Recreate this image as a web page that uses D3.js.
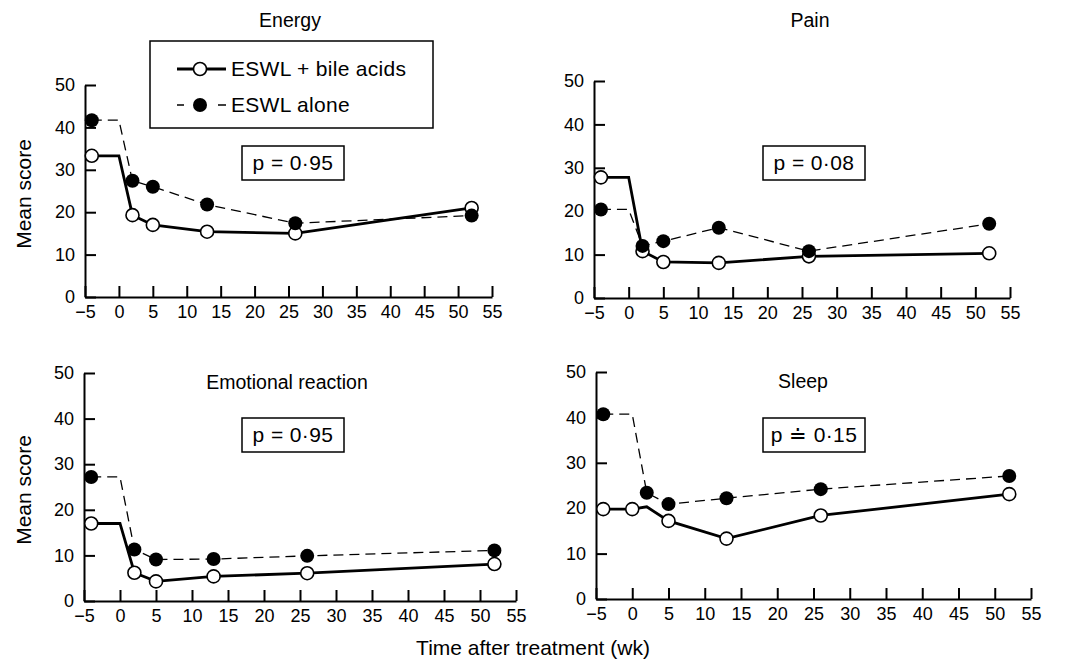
<!DOCTYPE html>
<html>
<head>
<meta charset="utf-8">
<script src="https://cdn.jsdelivr.net/npm/d3@7"></script>
<style>
  body { margin: 0; background: #fff; }
  svg { display: block; font-family: "Liberation Sans", Arial, sans-serif; }
  .axis path, .axis line { stroke: #000; stroke-width: 2; }
  .axis text { font-size: 18px; fill: #000; }
</style>
</head>
<body>
<script>
// weeks of each measurement (week 0 is the treatment)
var weeks = [-4, 0, 2, 5, 13, 26, 52];

var energyBile = [33.3, 33.3, 19.3, 17.0, 15.4, 15.0, 21.0];
var energyAlone = [41.7, 41.7, 27.4, 26.0, 21.8, 17.4, 19.2];
var painBile = [27.8, 27.8, 10.8, 8.3, 8.1, 9.6, 10.3];
var painAlone = [20.4, 20.4, 12.0, 13.1, 16.2, 10.8, 17.1];
var emotionBile = [17.0, 17.0, 6.2, 4.3, 5.4, 6.1, 8.1];
var emotionAlone = [27.2, 27.2, 11.3, 9.1, 9.2, 9.9, 11.1];
var sleepBile = [19.8, 19.8, 20.3, 17.2, 13.3, 18.4, 23.1];
var sleepAlone = [40.7, 40.7, 23.4, 20.9, 22.2, 24.2, 27.1];

// which weeks carry a marker
var markedWeeks = [-4, 2, 5, 13, 26, 52];
var markedWeeksSleepBile = [-4, 0, 5, 13, 26, 52];

var titles = ['Energy', 'Pain', 'Emotional reaction', 'Sleep'];
var pLabels = ['p = 0\u00b795', 'p = 0\u00b708', 'p = 0\u00b795', 'p \u2250 0\u00b715'];
var xTicks = [-5, 0, 5, 10, 15, 20, 25, 30, 35, 40, 45, 50, 55];
var yTicks = [0, 10, 20, 30, 40, 50];
var seriesNames = ['ESWL + bile acids', 'ESWL alone'];

var svg = d3.select('body').append('svg')
  .attr('width', 1071)
  .attr('height', 663);

// pixel frame of each panel, plus where title and p box sit
var panels = [
  { left: 85, right: 492, top: 85, bottom: 297, titleX: 290, titleY: 27, pX: 293, pY: 163,
    bile: energyBile, alone: energyAlone, bileMarks: markedWeeks, yLabel: true },
  { left: 594, right: 1010, top: 81, bottom: 298, titleX: 810, titleY: 27, pX: 814, pY: 163,
    bile: painBile, alone: painAlone, bileMarks: markedWeeks, yLabel: false },
  { left: 84, right: 516, top: 373, bottom: 601, titleX: 287, titleY: 389, pX: 293, pY: 435,
    bile: emotionBile, alone: emotionAlone, bileMarks: markedWeeks, yLabel: true },
  { left: 596, right: 1031, top: 372, bottom: 599, titleX: 803, titleY: 388, pX: 814, pY: 435,
    bile: sleepBile, alone: sleepAlone, bileMarks: markedWeeksSleepBile, yLabel: false }
];

panels.forEach(function (p, i) {
  var x = d3.scaleLinear().domain([-5, 55]).range([p.left, p.right]);
  var y = d3.scaleLinear().domain([0, 50]).range([p.bottom, p.top]);

  var g = svg.append('g');

  g.append('g')
    .attr('class', 'axis')
    .attr('transform', 'translate(0,' + p.bottom + ')')
    .call(d3.axisBottom(x).tickValues(xTicks).tickSizeInner(-11).tickSizeOuter(0).tickPadding(8)
      .tickFormat(function (d) { return d < 0 ? '\u2212' + (-d) : d; }));

  g.append('g')
    .attr('class', 'axis')
    .attr('transform', 'translate(' + p.left + ',0)')
    .call(d3.axisLeft(y).tickValues(yTicks).tickSizeInner(-11).tickSizeOuter(0).tickPadding(10));

  g.selectAll('.axis').attr('font-family', null);

  // title
  g.append('text')
    .attr('x', p.titleX)
    .attr('y', p.titleY)
    .attr('text-anchor', 'middle')
    .attr('font-size', 19.5)
    .text(titles[i]);

  // p value box
  g.append('rect')
    .attr('x', p.pX - 51)
    .attr('y', p.pY - 17)
    .attr('width', 102)
    .attr('height', 34)
    .attr('fill', '#fff')
    .attr('stroke', '#000')
    .attr('stroke-width', 1.5);
  g.append('text')
    .attr('x', p.pX)
    .attr('y', p.pY + 7)
    .attr('text-anchor', 'middle')
    .attr('font-size', 21)
    .attr('letter-spacing', 0.4)
    .text(pLabels[i]);

  if (p.yLabel) {
    g.append('text')
      .attr('transform', 'translate(31,' + ((p.top + p.bottom) / 2 + 3) + ') rotate(-90)')
      .attr('text-anchor', 'middle')
      .attr('font-size', 21)
      .text('Mean score');
  }

  var line = d3.line()
    .x(function (d) { return x(d[0]); })
    .y(function (d) { return y(d[1]); });

  var bilePts = d3.zip(weeks, p.bile);
  var alonePts = d3.zip(weeks, p.alone);

  // solid line with open circles
  g.append('path')
    .datum(bilePts)
    .attr('d', line)
    .attr('fill', 'none')
    .attr('stroke', '#000')
    .attr('stroke-width', 2.8);

  g.selectAll('.open')
    .data(bilePts.filter(function (d) { return p.bileMarks.indexOf(d[0]) >= 0; }))
    .enter()
    .append('circle')
      .attr('class', 'open')
      .attr('cx', function (d) { return x(d[0]); })
      .attr('cy', function (d) { return y(d[1]); })
      .attr('r', 6.5)
      .attr('fill', '#fff')
      .attr('stroke', '#000')
      .attr('stroke-width', 1.6);

  // dashed line with filled circles
  g.append('path')
    .datum(alonePts)
    .attr('d', line)
    .attr('fill', 'none')
    .attr('stroke', '#000')
    .attr('stroke-width', 1.3)
    .attr('stroke-dasharray', '10,6');

  g.selectAll('.filled')
    .data(alonePts.filter(function (d) { return markedWeeks.indexOf(d[0]) >= 0; }))
    .enter()
    .append('circle')
      .attr('class', 'filled')
      .attr('cx', function (d) { return x(d[0]); })
      .attr('cy', function (d) { return y(d[1]); })
      .attr('r', 7)
      .attr('fill', '#000');
});

// legend in the first panel
var legend = svg.append('g');
legend.append('rect')
  .attr('x', 150).attr('y', 41)
  .attr('width', 283).attr('height', 87)
  .attr('fill', '#fff')
  .attr('stroke', '#000')
  .attr('stroke-width', 1.5);

seriesNames.forEach(function (name, i) {
  var cy = 69 + i * 36;
  legend.append('line')
    .attr('x1', 177).attr('x2', 226)
    .attr('y1', cy).attr('y2', cy)
    .attr('stroke', '#000')
    .attr('stroke-width', i === 0 ? 2.8 : 1.3)
    .attr('stroke-dasharray', i === 0 ? null : '7,34,8');
  legend.append('circle')
    .attr('cx', 200).attr('cy', cy)
    .attr('r', i === 0 ? 6.5 : 7)
    .attr('fill', i === 0 ? '#fff' : '#000')
    .attr('stroke', '#000')
    .attr('stroke-width', i === 0 ? 1.6 : 0);
  legend.append('text')
    .attr('x', 231).attr('y', cy + 7)
    .attr('font-size', 21)
    .attr('letter-spacing', 0.3)
    .text(name);
});

svg.append('text')
  .attr('x', 533)
  .attr('y', 655)
  .attr('text-anchor', 'middle')
  .attr('font-size', 21)
  .text('Time after treatment (wk)');
</script>
</body>
</html>
